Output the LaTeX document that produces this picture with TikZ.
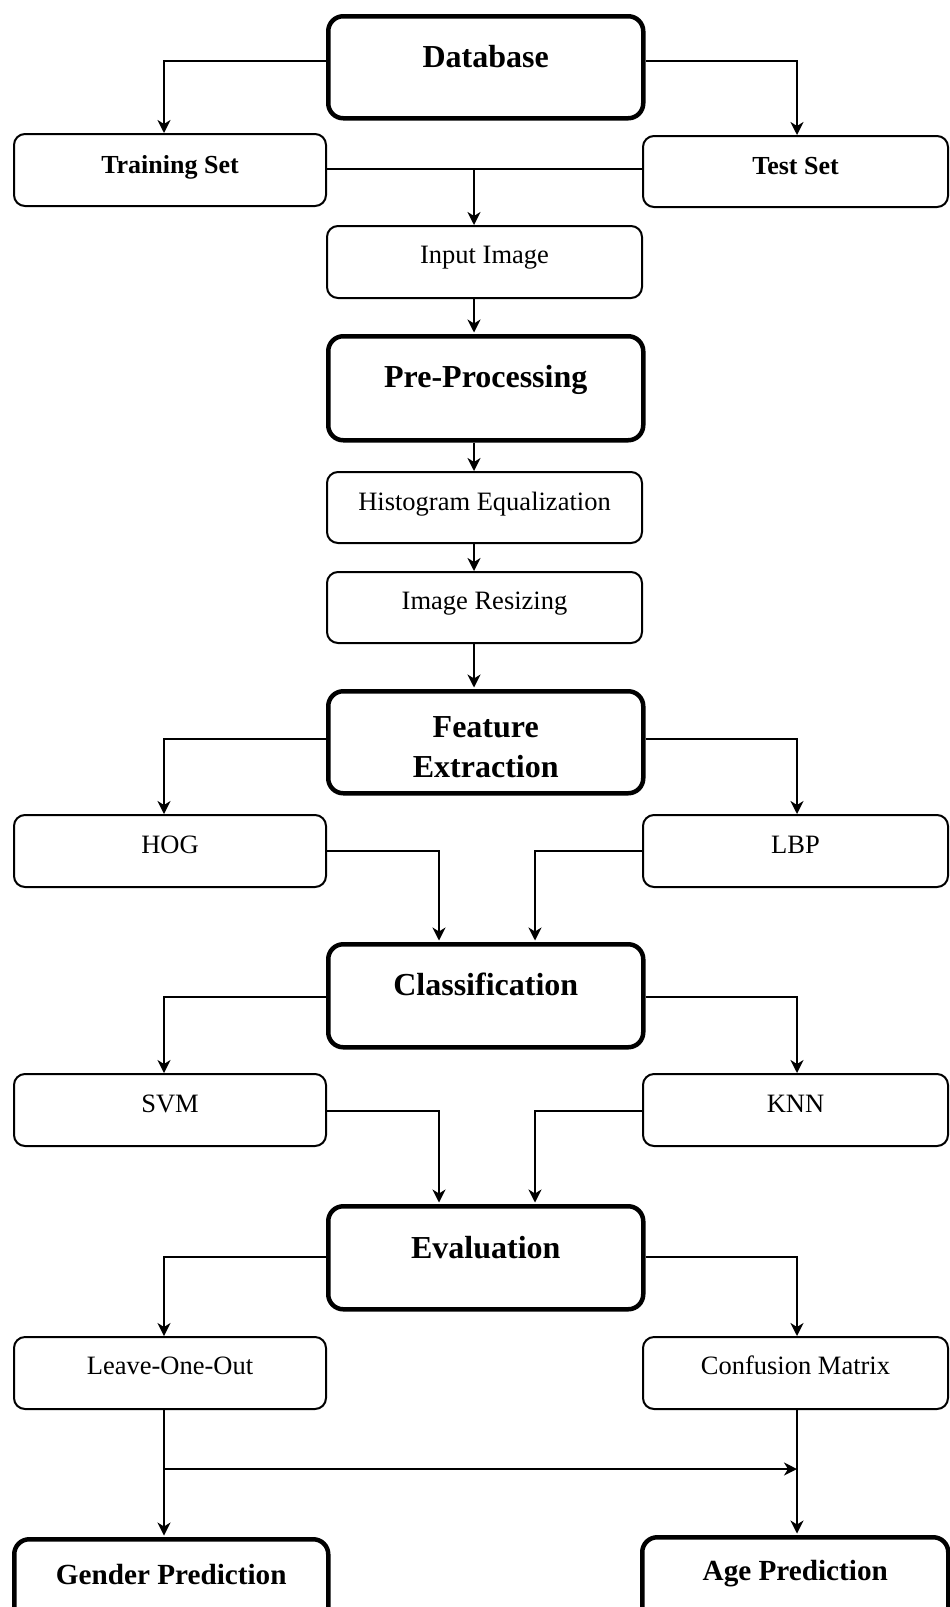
\documentclass[tikz,border=0pt]{standalone}
\usepackage{fontspec}
\setmainfont{Liberation Serif}
\usetikzlibrary{arrows.meta}
\tikzset{
  thinbox/.style={draw, line width=2pt, rounded corners=11pt, inner xsep=0pt, inner ysep=0pt, anchor=north west, font=\fontsize{26.5}{30}\selectfont},
  bigbox/.style={draw, line width=4.5pt, rounded corners=15pt, inner xsep=0pt, inner ysep=0pt, anchor=north west, font=\fontsize{32}{40}\selectfont\bfseries},
  endbox/.style={bigbox, font=\fontsize{29.2}{34}\selectfont\bfseries},
  conn/.style={line width=2pt},
  arr/.style={conn, -{Stealth[length=13pt, width=13pt, inset=4pt]}},
}
\begin{document}
\begin{tikzpicture}[x=1pt, y=-1pt]
\useasboundingbox (0,0) rectangle (950,1607);
\clip (0,0) rectangle (950,1607);
% columns and rows
\coordinate (cL) at (164,0);
\coordinate (cR) at (797,0);
\coordinate (cM) at (474,0);
\coordinate (cA) at (439,0);
\coordinate (cB) at (535,0);
\coordinate (r1) at (0,61);
\coordinate (r2) at (0,169);
\coordinate (r3) at (0,739);
\coordinate (r4) at (0,851);
\coordinate (r5) at (0,997);
\coordinate (r6) at (0,1111);
\coordinate (r7) at (0,1257);
\coordinate (r8) at (0,1469);
% nodes
\node[bigbox, minimum width=315pt, text height=51pt, text depth=51pt] (db) at (326,14) {Database};
\node[thinbox, minimum width=312pt, text height=39pt, text depth=33pt, font=\fontsize{26}{30}\selectfont\bfseries] (train) at (13,133) {Training Set};
\node[thinbox, minimum width=305pt, text height=38pt, text depth=33pt, font=\fontsize{26}{30}\selectfont\bfseries] (test) at (642,135) {Test Set};
\node[thinbox, minimum width=315pt, text height=37pt, text depth=35pt] (input) at (326,225) {Input Image};
\node[bigbox, minimum width=315pt, text height=51pt, text depth=53pt] (pre) at (326,334) {Pre-Processing};
\node[thinbox, minimum width=315pt, text height=38pt, text depth=33pt] (hist) at (326,471) {Histogram Equalization};
\node[thinbox, minimum width=315pt, text height=37pt, text depth=34pt] (resize) at (326,571) {Image Resizing};
\node[bigbox, minimum width=315pt, text height=46pt, text depth=56pt] (fe) at (326,689) {\parbox[t]{300pt}{\centering\fontsize{32}{40}\selectfont\bfseries Feature\\Extraction}};
\node[thinbox, minimum width=312pt, text height=38pt, text depth=34pt] (hog) at (13,814) {HOG};
\node[thinbox, minimum width=305pt, text height=38pt, text depth=34pt] (lbp) at (642,814) {LBP};
\node[bigbox, minimum width=315pt, text height=51pt, text depth=52pt] (cls) at (326,942) {Classification};
\node[thinbox, minimum width=312pt, text height=38pt, text depth=34pt] (svm) at (13,1073) {SVM};
\node[thinbox, minimum width=305pt, text height=38pt, text depth=34pt] (knn) at (642,1073) {KNN};
\node[bigbox, minimum width=315pt, text height=52pt, text depth=51pt] (eval) at (326,1204) {Evaluation};
\node[thinbox, minimum width=312pt, text height=37pt, text depth=35pt] (loo) at (13,1336) {Leave-One-Out};
\node[thinbox, minimum width=305pt, text height=37pt, text depth=35pt] (conf) at (642,1336) {Confusion Matrix};
\node[endbox, minimum width=314pt, text height=45pt, text depth=80pt] (gender) at (12,1537) {Gender Prediction};
\node[endbox, minimum width=306pt, text height=43pt, text depth=80pt] (age) at (640,1535) {Age Prediction};
% connectors
\draw[arr] (db.west |- r1) -| (train.north -| cL);
\draw[arr] (db.east |- r1) -| (test.north -| cR);
\draw[conn] (train.east |- r2) -- (test.west |- r2);
\draw[arr] (cM |- r2) -- (input.north -| cM);
\draw[arr] (input.south -| cM) -- ([yshift=1.5pt]pre.north -| cM);
\draw[arr] (pre.south -| cM) -- (hist.north -| cM);
\draw[arr] (hist.south -| cM) -- (resize.north -| cM);
\draw[arr] (resize.south -| cM) -- ([yshift=1.5pt]fe.north -| cM);
\draw[arr] (fe.west |- r3) -| (hog.north -| cL);
\draw[arr] (fe.east |- r3) -| (lbp.north -| cR);
\draw[arr] (hog.east |- r4) -| ([yshift=1.5pt]cls.north -| cA);
\draw[arr] (lbp.west |- r4) -| ([yshift=1.5pt]cls.north -| cB);
\draw[arr] (cls.west |- r5) -| (svm.north -| cL);
\draw[arr] (cls.east |- r5) -| (knn.north -| cR);
\draw[arr] (svm.east |- r6) -| ([yshift=1.5pt]eval.north -| cA);
\draw[arr] (knn.west |- r6) -| ([yshift=1.5pt]eval.north -| cB);
\draw[arr] (eval.west |- r7) -| (loo.north -| cL);
\draw[arr] (eval.east |- r7) -| (conf.north -| cR);
\draw[arr] (loo.south -| cL) -- ([yshift=1.5pt]gender.north -| cL);
\draw[arr] (cL |- r8) -- (cR |- r8);
\draw[arr] (conf.south -| cR) -- ([yshift=1.5pt]age.north -| cR);
\end{tikzpicture}
\end{document}
